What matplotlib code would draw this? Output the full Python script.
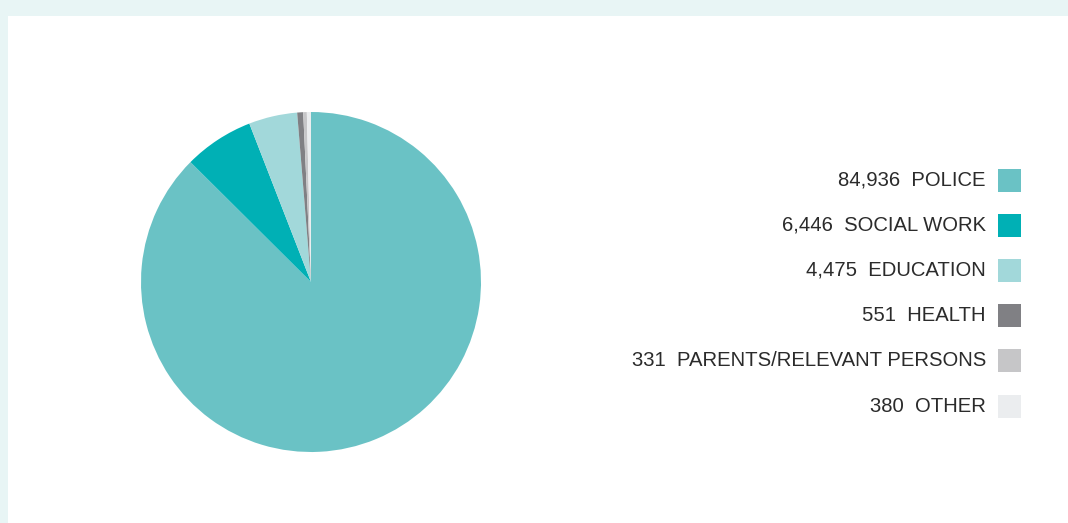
import matplotlib
matplotlib.use("Agg")
import matplotlib.pyplot as plt
from matplotlib.patches import Rectangle

# referral sources
labels = ["POLICE", "SOCIAL WORK", "EDUCATION", "HEALTH",
          "PARENTS/RELEVANT PERSONS", "OTHER"]
values = [84936, 6446, 4475, 551, 331, 380]
colors = ["#6ac2c5", "#00b0b5", "#a2d8da", "#808084", "#c6c6c8", "#ebedef"]

W, H = 1068, 523
fig = plt.figure(figsize=(W / 100, H / 100), dpi=100, facecolor="#e8f5f5")

# white panel (behind the pie)
fig.patches.append(Rectangle((8 / W, 0), 1, (H - 16) / H, transform=fig.transFigure,
                             facecolor="white", edgecolor="none", zorder=-1))

# pie
cx, cy, r = 311, H - 282, 170
ax = fig.add_axes([(cx - r) / W, (cy - r) / H, 2 * r / W, 2 * r / H])
ax.pie(values, colors=colors, startangle=90, counterclock=False,
       wedgeprops=dict(linewidth=0))
ax.set_xlim(-1, 1)
ax.set_ylim(-1, 1)
ax.set_aspect("equal")
ax.axis("off")

# legend on the right
plt.rcParams["font.family"] = ["Liberation Sans", "DejaVu Sans"]
y0, step = 180, 45.2
for i, (lab, val, col) in enumerate(zip(labels, values, colors)):
    y = H - (y0 + i * step)
    fig.text(986 / W, y / H, f"{val:,}  {lab}", ha="right", va="center",
             fontsize=14.6, color="#2b2b2b")
    fig.patches.append(Rectangle((998 / W, (y - 11.5) / H), 23 / W, 23 / H,
                                 transform=fig.transFigure, facecolor=col,
                                 edgecolor="none"))

fig.savefig("out.png", dpi=100, facecolor=fig.get_facecolor())
